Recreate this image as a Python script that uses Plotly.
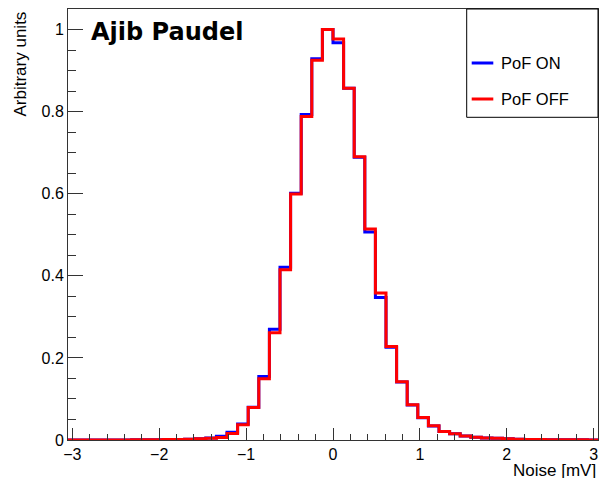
import numpy as np
import plotly.graph_objects as go

# ---- data ----
x_min, x_max, n_bins = -3.05, 3.05, 50
pof_on = [0.0003, 0.0003, 0.0003, 0.0003, 0.0003, 0.0003, 0.0005, 0.0005, 0.0005, 0.001,
          0.001, 0.002, 0.003, 0.005, 0.009, 0.019, 0.039, 0.080, 0.155, 0.270,
          0.421, 0.601, 0.793, 0.929, 1.000, 0.968, 0.857, 0.689, 0.507, 0.347,
          0.226, 0.141, 0.085, 0.054, 0.034, 0.021, 0.015, 0.010, 0.007, 0.005,
          0.004, 0.003, 0.002, 0.0015, 0.001, 0.0008, 0.0006, 0.0005, 0.0004, 0.0003]
pof_off = [0.0003, 0.0003, 0.0003, 0.0003, 0.0003, 0.0003, 0.0005, 0.0005, 0.0005, 0.001,
           0.001, 0.002, 0.003, 0.004, 0.006, 0.016, 0.037, 0.079, 0.149, 0.261,
           0.415, 0.599, 0.788, 0.925, 1.000, 0.977, 0.857, 0.690, 0.514, 0.358,
           0.228, 0.142, 0.086, 0.055, 0.035, 0.021, 0.015, 0.010, 0.007, 0.005,
           0.004, 0.003, 0.002, 0.0015, 0.001, 0.0008, 0.0006, 0.0005, 0.0004, 0.0003]
series_names = ["PoF ON", "PoF OFF"]
series_colors = ["#0000ff", "#ff0000"]
y_ticks = [0, 0.2, 0.4, 0.6, 0.8, 1.0]
y_tick_labels = ["0", "0.2", "0.4", "0.6", "0.8", "1"]
x_ticks = [-3, -2, -1, 0, 1, 2, 3]
x_tick_labels = ["\u22123", "\u22122", "\u22121", "0", "1", "2", "3"]

edges = np.linspace(x_min, x_max, n_bins + 1)

fig = go.Figure()
for name, vals, col in zip(series_names, [pof_on, pof_off], series_colors):
    fig.add_trace(go.Scatter(
        x=edges, y=list(vals) + [vals[-1]], mode="lines", line_shape="hv",
        line=dict(color=col, width=3), name=name, showlegend=False,
        hoverinfo="skip"))

axis_common = dict(showline=True, linecolor="#333333", linewidth=1, mirror=True,
                   showgrid=False, zeroline=False, ticks="inside", tickcolor="#333333",
                   automargin=False,
                   tickfont=dict(family="Liberation Sans", size=16, color="black"))

fig.update_xaxes(range=[x_min, x_max], tickvals=x_ticks, ticktext=x_tick_labels,
                 ticklen=12, minor=dict(dtick=0.2, tick0=0, ticklen=6, ticks="inside",
                                        tickcolor="#333333"),
                 **axis_common)
fig.update_yaxes(range=[0, 1.05], tickvals=y_ticks, ticktext=y_tick_labels,
                 ticklen=15, minor=dict(dtick=0.05, tick0=0, ticklen=8, ticks="inside",
                                        tickcolor="#333333"),
                 **axis_common)

L, R, T, B, W, H = 68, 2, 9, 38, 600, 478
pw, ph = W - L - R, H - T - B
def px(x):
    return (x - L) / pw
def py(y):
    return (H - B - y) / ph

annotations = [
    dict(text="Arbitrary units", textangle=-90, x=px(20), y=py(10), xref="paper", yref="paper",
         xanchor="center", yanchor="top", showarrow=False,
         font=dict(family="Liberation Sans", size=17, color="black")),
    dict(text="Noise [mV]", x=1.0, y=py(470), xref="paper", yref="paper",
         xanchor="right", yanchor="middle", showarrow=False,
         font=dict(family="Liberation Sans", size=17, color="black")),
    dict(text="<b>Ajib Paudel</b>", x=px(89), y=py(32), xref="paper", yref="paper",
         xanchor="left", yanchor="middle", showarrow=False,
         font=dict(family="DejaVu Sans", size=24, color="black")),
]
shapes = [
    dict(type="rect", xref="paper", yref="paper", x0=px(466.7), x1=1.0, y0=py(117.3), y1=1.0,
         line=dict(color="black", width=1), fillcolor="white", layer="above"),
]
for i, (name, col) in enumerate(zip(series_names, series_colors)):
    yy = [63, 99][i]
    shapes.append(dict(type="line", xref="paper", yref="paper", x0=px(471.7), x1=px(493.3),
                       y0=py(yy), y1=py(yy), line=dict(color=col, width=3), layer="above"))
    annotations.append(dict(text=name, x=px(499), y=py(yy), xref="paper", yref="paper",
                            xanchor="left", yanchor="middle", showarrow=False,
                            font=dict(family="Liberation Sans", size=16.5, color="black")))

fig.update_layout(width=W, height=H, margin=dict(l=L, r=R, t=T, b=B, autoexpand=False),
                  plot_bgcolor="white", paper_bgcolor="white",
                  annotations=annotations, shapes=shapes, showlegend=False)

fig.write_html("out.html", config={"displayModeBar": False},
               post_script="document.body.style.margin='0px';document.body.style.overflow='hidden';")
